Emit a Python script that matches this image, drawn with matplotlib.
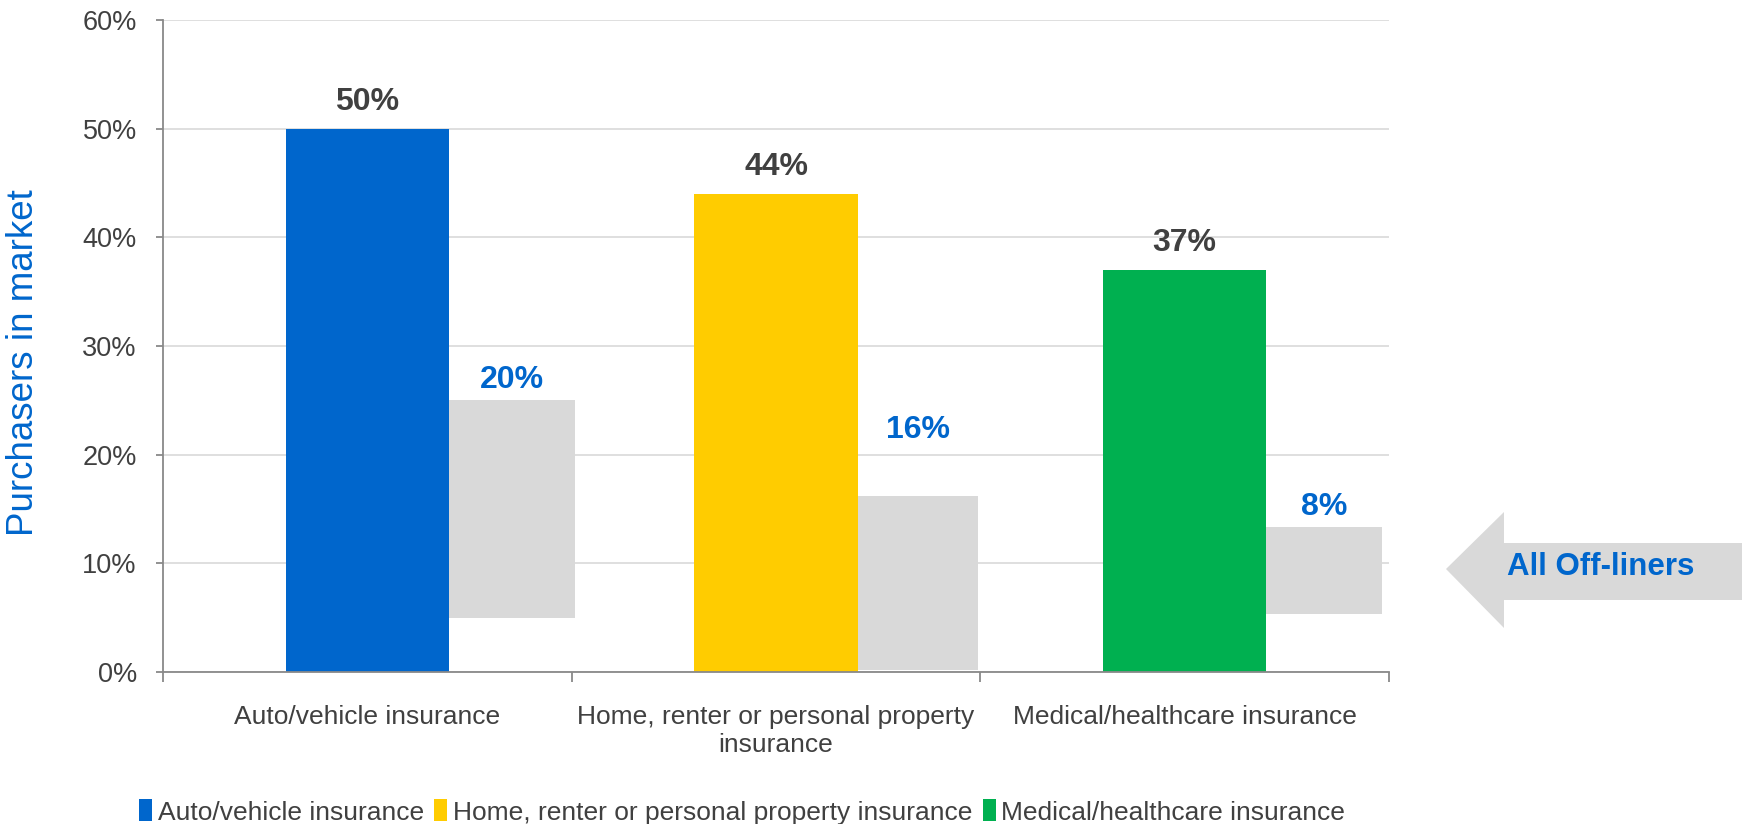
import matplotlib
matplotlib.use("Agg")
import matplotlib.pyplot as plt
from matplotlib.patches import Patch, Polygon

plt.rcParams['font.family'] = ['Liberation Sans', 'DejaVu Sans']

categories = ['Auto/vehicle insurance',
              'Home, renter or personal property\ninsurance',
              'Medical/healthcare insurance']
legend_names = ['Auto/vehicle insurance',
                'Home, renter or personal property insurance',
                'Medical/healthcare insurance']
purchasers = [50, 44, 37]
offliners = [20, 16, 8]
offliner_base = [5, 0.2, 5.3]
yticks = [0, 10, 20, 30, 40, 50, 60]

colors = ['#0066CC', '#FFCC00', '#00B050']
gray = '#D9D9D9'
blue_txt = '#0066CC'
dark_txt = '#404040'
gray_widths = [0.307, 0.294, 0.283]
gray_label_lift = [1.9, 6.1, 1.9]

fig = plt.figure(figsize=(17.42, 8.24), dpi=100)
ax = fig.add_axes([0.0937, 0.1845, 0.7036, 0.7912])

x = list(range(len(categories)))
ax.bar(x, purchasers, width=0.4, color=colors, zorder=2)
for i in x:
    ax.bar(i + 0.2, offliners[i], width=gray_widths[i], bottom=offliner_base[i],
           align='edge', color=gray, zorder=2)
    ax.text(i, purchasers[i] + 2.5, f'{purchasers[i]}%', ha='center', va='center',
            fontsize=23, fontweight='bold', color=dark_txt)
    top = offliner_base[i] + offliners[i]
    ax.text(i + 0.2 + gray_widths[i] / 2, top + gray_label_lift[i], f'{offliners[i]}%',
            ha='center', va='center', fontsize=23, fontweight='bold', color=blue_txt)

ax.set_xlim(-0.5, 2.5)
ax.set_ylim(0, 60)
ax.set_yticks(yticks)
ax.set_yticklabels([f'{v}%' for v in yticks])
ax.yaxis.grid(True, color='#D9D9D9', linewidth=1.2, zorder=0)
ax.set_axisbelow(True)

ax.set_xticks(x)
ax.set_xticklabels(categories)
ax.set_xticks([-0.5, 0.5, 1.5, 2.5], minor=True)
ax.tick_params(axis='x', which='major', length=0, pad=24, labelsize=19, labelcolor=dark_txt)
ax.tick_params(axis='x', which='minor', length=7, width=1.3, color='#898989')
ax.tick_params(axis='y', length=5, width=1.3, color='#898989', pad=14,
               labelsize=19.5, labelcolor=dark_txt)

for side in ['top', 'right']:
    ax.spines[side].set_visible(False)
for side in ['left', 'bottom']:
    ax.spines[side].set_color('#898989')
    ax.spines[side].set_linewidth(1.3)

fig.text(24 / 1742, 1 - 363 / 824, 'Purchasers in market', rotation=90,
         ha='center', va='center', fontsize=26.5, color=blue_txt)

# arrow pointing at the off-liner bars
W, H = 1742, 824
pts = [(1446, 569), (1504, 512), (1504, 543), (W, 543),
       (W, 600), (1504, 600), (1504, 628)]
arrow = Polygon([(px / W, 1 - py / H) for px, py in pts], closed=True,
                facecolor=gray, edgecolor='none', transform=fig.transFigure)
fig.patches.append(arrow)
fig.text(1601 / W, 1 - 567 / H, 'All Off-liners', ha='center', va='center',
         fontsize=22.5, fontweight='bold', color=blue_txt)

handles = [Patch(facecolor=c) for c in colors]
fig.legend(handles, legend_names, loc='center', bbox_to_anchor=(742 / W, 1 - 812 / H),
           ncol=3, frameon=False, fontsize=19, handlelength=0.5, handleheight=0.9,
           handletextpad=0.2, columnspacing=0.4, labelcolor=dark_txt)

fig.savefig('out.png', dpi=100)
